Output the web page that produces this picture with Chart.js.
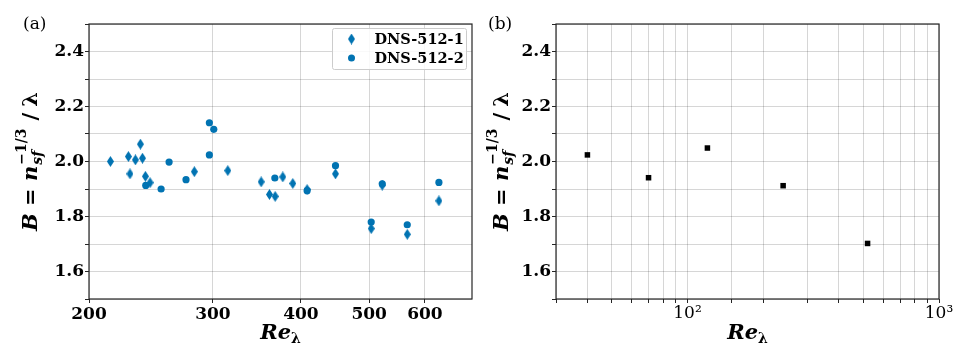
<!DOCTYPE html>
<html>
<head>
<meta charset="utf-8">
<script src="https://cdn.jsdelivr.net/npm/chart.js@4/dist/chart.umd.min.js"></script>
<style>
  body { margin: 0; background: #fff; }
  #wrap { position: relative; width: 962px; height: 346px; }
  .panel { position: absolute; top: 0; width: 481px; height: 346px; }
</style>
</head>
<body>
<div id="wrap">
  <div class="panel" style="left:0"><canvas id="chartA" width="481" height="346"></canvas></div>
  <div class="panel" style="left:481px"><canvas id="chartB" width="481" height="346"></canvas></div>
</div>
<script>
// panel (a) data
const reRun1 = [214.5, 227.5, 228.7, 232.8, 236.6, 238.2, 240.5, 244.2, 282.3, 314.9, 351.2,
    360.9, 367.7, 377.0, 389.5, 408.2, 447.9, 503.4, 521.9, 566.4, 628.2];
const bRun1 = [2.000, 2.018, 1.955, 2.006, 2.063, 2.012, 1.946, 1.923, 1.963, 1.967, 1.926,
    1.880, 1.873, 1.944, 1.920, 1.898, 1.955, 1.756, 1.914, 1.735, 1.857];
const reRun2 = [240.8, 253.2, 259.9, 274.7, 296.5, 296.5, 300.8, 367.3, 408.2, 447.9, 503.4,
    521.9, 566.4, 628.2];
const bRun2 = [1.913, 1.900, 1.998, 1.934, 2.141, 2.024, 2.117, 1.940, 1.894, 1.985, 1.780,
    1.919, 1.770, 1.924];
const seriesNames = ["DNS-512-1", "DNS-512-2"];

// panel (b) data
const reB = [40, 70, 120, 240, 520];
const bB = [2.024, 1.941, 2.049, 1.912, 1.702];

const xTicksA = [200, 300, 400, 500, 600];
const yLabelTicks = [1.6, 1.8, 2.0, 2.2, 2.4];

const blue = "#0173b2";
const gridCol = "rgba(0,0,0,0.16)";
const frameCol = "#262626";
const tickFont = { family: "DejaVu Serif", size: 17, weight: "bold" };

function pts(xs, ys){
    return xs.map((x, i) => ({x: x, y: ys[i]}));
}

function makeDiamond(w, h, color){
    const c = document.createElement("canvas");
    c.width = w; c.height = h;
    const g = c.getContext("2d");
    g.fillStyle = color;
    g.beginPath();
    g.moveTo(w / 2, 0); g.lineTo(w, h / 2); g.lineTo(w / 2, h); g.lineTo(0, h / 2);
    g.closePath();
    g.fill();
    return c;
}
const diamond = makeDiamond(7, 11, blue);

// draws a list of text pieces one after another, centred on 0
function drawParts(ctx, parts){
    let total = 0;
    parts.forEach(p => {
        if (p.gap){
            p.w = p.gap;
        } else if (p.group){
            let w = 0;
            p.group.forEach(q => { ctx.font = q.font; w = Math.max(w, ctx.measureText(q.t).width); });
            p.w = w;
        } else {
            ctx.font = p.font;
            p.w = ctx.measureText(p.t).width;
        }
        total += p.w;
    });
    let x = -total / 2;
    ctx.textBaseline = "alphabetic";
    ctx.textAlign = "left";
    parts.forEach(p => {
        if (p.group){
            p.group.forEach(q => { ctx.font = q.font; ctx.fillText(q.t, x, q.dy); });
        } else if (!p.gap){
            ctx.font = p.font;
            ctx.fillText(p.t, x, p.dy || 0);
        }
        x += p.w;
    });
}

const BI = "italic bold 21px 'DejaVu Serif'";
const BU = "bold 21px 'DejaVu Serif'";
const SI = "italic bold 14px 'DejaVu Serif'";
const SU = "bold 14px 'DejaVu Serif'";

const labelsPlugin = {
    id: "labels",
    afterDraw(chart, args, opts){
        const ctx = chart.ctx;
        const a = chart.chartArea;
        ctx.save();
        ctx.fillStyle = "#000";
        // frame
        ctx.strokeStyle = frameCol;
        ctx.lineWidth = 1.2;
        ctx.strokeRect(a.left, a.top, a.right - a.left, a.bottom - a.top);
        // panel letter
        ctx.font = "17px 'DejaVu Serif'";
        ctx.textAlign = "left";
        ctx.textBaseline = "alphabetic";
        ctx.fillText(opts.letter, opts.letterX, 29);
        // y title
        ctx.save();
        ctx.translate(opts.yTitleX, (a.top + a.bottom) / 2);
        ctx.rotate(-Math.PI / 2);
        drawParts(ctx, [
            {t: "B", font: BI},
            {t: " = ", font: BU},
            {t: "n", font: BI},
            {gap: 1},
            {group: [{t: "sf", font: SI, dy: 5}, {t: "\u22121/3", font: SU, dy: -11}]},
            {gap: 8},
            {t: "/", font: BU},
            {gap: 6},
            {t: "\u03bb", font: BU}
        ]);
        ctx.restore();
        // x title
        ctx.save();
        ctx.translate((a.left + a.right) / 2, 339);
        drawParts(ctx, [
            {t: "Re", font: BI},
            {t: "\u03bb", font: SU, dy: 4}
        ]);
        ctx.restore();
        // legend
        if (opts.legend){
            const L = opts.legend;
            ctx.fillStyle = "rgba(255,255,255,0.85)";
            ctx.strokeStyle = "#cccccc";
            ctx.lineWidth = 1;
            ctx.beginPath();
            ctx.roundRect(L.x, L.y, L.w, L.h, 2);
            ctx.fill();
            ctx.stroke();
            ctx.font = "bold 14.5px 'DejaVu Serif'";
            ctx.textBaseline = "middle";
            ctx.fillStyle = "#000";
            chart.data.datasets.forEach((ds, i) => {
                const yy = L.y + 10.5 + i * 19;
                const mx = L.x + 19;
                if (ds.pointStyle instanceof HTMLCanvasElement){
                    ctx.drawImage(ds.pointStyle, mx - 3.5, yy - 5.5);
                } else {
                    ctx.fillStyle = ds.backgroundColor;
                    ctx.beginPath();
                    ctx.arc(mx, yy, 3.5, 0, Math.PI * 2);
                    ctx.fill();
                    ctx.fillStyle = "#000";
                }
                ctx.fillText(ds.label, L.x + 42, yy + 1);
            });
        }
        ctx.restore();
    }
};

function yScale(width){
    return {
        type: "linear",
        min: 1.5,
        max: 2.5,
        ticks: {
            stepSize: 0.1,
            color: "#000",
            font: tickFont,
            padding: 1,
            callback: function(v){
                const r = Math.round(v * 10) / 10;
                return yLabelTicks.some(t => Math.abs(t - r) < 1e-6) ? r.toFixed(1) : "";
            }
        },
        grid: { color: gridCol, lineWidth: 1, tickLength: 4, tickColor: frameCol },
        border: { display: false },
        afterFit: function(s){ s.width = width; }
    };
}

Chart.register(labelsPlugin);

new Chart(document.getElementById("chartA"), {
    type: "scatter",
    data: {
        datasets: [{
            label: seriesNames[0],
            data: pts(reRun1, bRun1),
            pointStyle: diamond,
            backgroundColor: blue,
            borderColor: blue
        }, {
            label: seriesNames[1],
            data: pts(reRun2, bRun2),
            pointStyle: "circle",
            pointRadius: 3.6,
            borderWidth: 0,
            backgroundColor: blue,
            borderColor: blue
        }]
    },
    options: {
        responsive: false,
        animation: false,
        layout: { padding: { left: 0, right: 9, top: 24, bottom: 0 } },
        plugins: {
            legend: { display: false },
            tooltip: { enabled: false },
            labels: {
                letter: "(a)", letterX: 23, yTitleX: 37,
                legend: { x: 332.5, y: 28.5, w: 134, h: 41 }
            }
        },
        scales: {
            x: {
                type: "logarithmic",
                min: 200,
                max: 700,
                afterBuildTicks: function(s){ s.ticks = xTicksA.map(v => ({value: v})); },
                ticks: {
                    color: "#000",
                    font: tickFont,
                    padding: 1,
                    maxRotation: 0,
                    autoSkip: false,
                    callback: function(v){ return String(v); }
                },
                grid: { color: gridCol, lineWidth: 1, tickLength: 4, tickColor: frameCol },
                border: { display: false },
                afterFit: function(s){ s.height = 47; }
            },
            y: yScale(89)
        }
    }
});

new Chart(document.getElementById("chartB"), {
    type: "scatter",
    data: {
        datasets: [{
            label: "B",
            data: pts(reB, bB),
            pointStyle: "rect",
            pointRadius: 3.9,
            borderWidth: 0,
            backgroundColor: "#000",
            borderColor: "#000"
        }]
    },
    options: {
        responsive: false,
        animation: false,
        layout: { padding: { left: 0, right: 23, top: 24, bottom: 0 } },
        plugins: {
            legend: { display: false },
            tooltip: { enabled: false },
            labels: { letter: "(b)", letterX: 7, yTitleX: 27 }
        },
        scales: {
            x: {
                type: "logarithmic",
                min: 30,
                max: 1000,
                ticks: {
                    color: "#000",
                    font: { family: "DejaVu Serif", size: 17 },
                    padding: 0,
                    maxRotation: 0,
                    autoSkip: false,
                    callback: function(v){
                        if (v === 100) return "10\u00b2";
                        if (v === 1000) return "10\u00b3";
                        return "";
                    }
                },
                grid: { color: gridCol, lineWidth: 1, tickLength: 4, tickColor: frameCol },
                border: { display: false },
                afterFit: function(s){ s.height = 47; }
            },
            y: yScale(75)
        }
    }
});
</script>
</body>
</html>
